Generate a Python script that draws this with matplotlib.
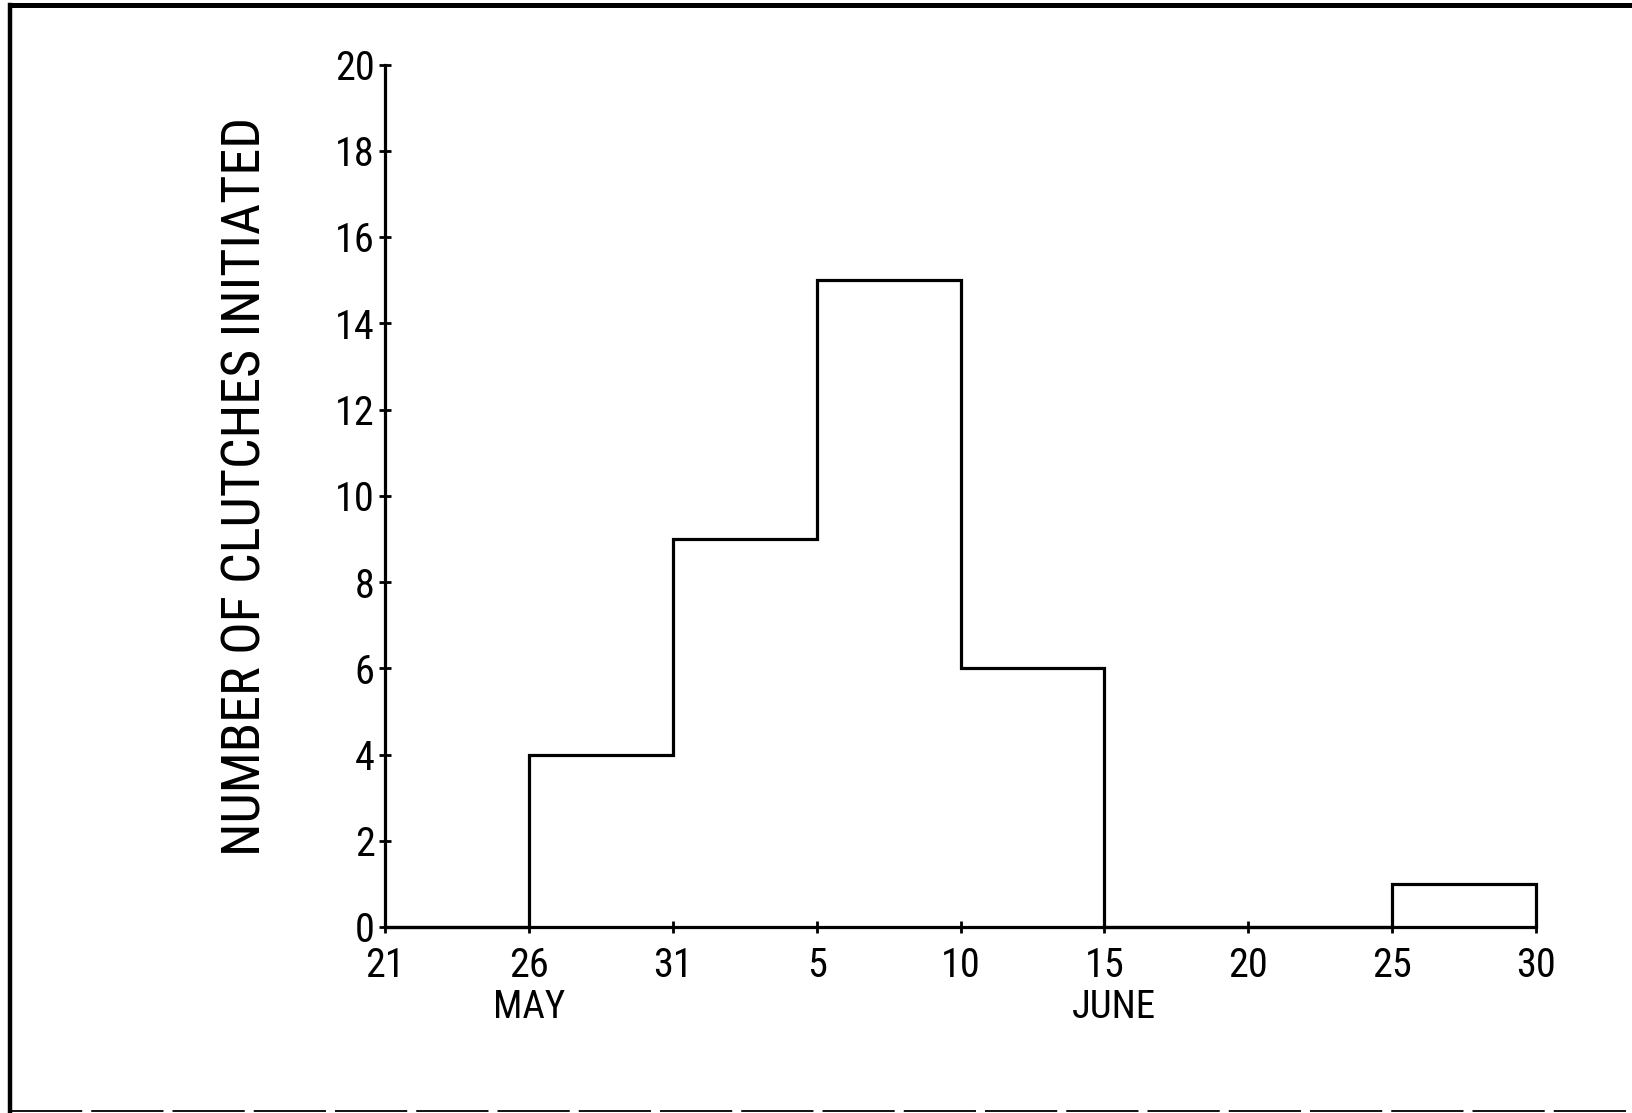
import matplotlib
matplotlib.use("Agg")
import matplotlib.pyplot as plt
from matplotlib.lines import Line2D
import matplotlib.transforms as mtransforms

# ---- data ----
bin_edges = [0, 5, 10, 15, 20, 25, 30, 35, 40]          # days after 21 May
clutch_counts = [0, 4, 9, 15, 6, 0, 0, 1]
x_tick_labels = ["21", "26", "31", "5", "10", "15", "20", "25", "30"]
y_ticks = [0, 2, 4, 6, 8, 10, 12, 14, 16, 18, 20]
month_labels = ["MAY", "JUNE"]
month_label_ticks = ["26", "15"]
y_label = "NUMBER OF CLUTCHES INITIATED"

FONT = ["Roboto Condensed", "DejaVu Sans"]
plt.rcParams["font.family"] = FONT

W, H = 1632, 1113
fig = plt.figure(figsize=(W / 100, H / 100), dpi=100)
fig.patch.set_facecolor("white")

left, right = 385 / W, 1536 / W
bottom, top = 1 - 927 / H, 1 - 64.5 / H
ax = fig.add_axes([left, bottom, right - left, top - bottom])

ax.stairs(clutch_counts, bin_edges, baseline=0, color="black", lw=2.3,
          clip_on=False, zorder=3)

ax.set_xlim(bin_edges[0], bin_edges[-1])
ax.set_ylim(y_ticks[0], y_ticks[-1])

for s in ["top", "right"]:
    ax.spines[s].set_visible(False)
for s in ["left", "bottom"]:
    ax.spines[s].set_linewidth(2.3)
    ax.spines[s].set_color("black")

ax.set_xticks(bin_edges)
ax.set_xticklabels(x_tick_labels)
ax.set_yticks(y_ticks)
ax.set_yticklabels([str(v) for v in y_ticks])
ax.tick_params(axis="both", direction="inout", length=9, width=2, colors="black",
               labelsize=29)
ax.tick_params(axis="x", pad=9)
ax.tick_params(axis="y", pad=3)

fig.text(246 / W, 1 - 486 / H, y_label, rotation=90, ha="center", va="center",
         fontsize=39, color="black")

trans = mtransforms.blended_transform_factory(ax.transData, fig.transFigure)
for lab, tk in zip(month_labels, month_label_ticks):
    xpos = bin_edges[x_tick_labels.index(tk)]
    off = 0 if lab == "MAY" else 10
    t = mtransforms.offset_copy(trans, fig=fig, x=off, y=0, units="dots")
    ax.text(xpos, 1 - 1008 / H, lab, transform=t, ha="center", va="center",
            fontsize=28, color="black")

# page frame (scan border)
fig.add_artist(Line2D([10 / W, 10 / W], [1 - 5 / H, 1 - 1111 / H],
                      transform=fig.transFigure, color="black", lw=3.2))
fig.add_artist(Line2D([10 / W, 1.0], [1 - 5 / H, 1 - 5 / H],
                      transform=fig.transFigure, color="black", lw=3.6))
fig.add_artist(Line2D([10 / W, 1.0], [1 - 1111 / H, 1 - 1111 / H],
                      transform=fig.transFigure, color="black", lw=1.3,
                      linestyle=(0, (40, 5))))

fig.savefig("out.png", dpi=100, facecolor="white")
